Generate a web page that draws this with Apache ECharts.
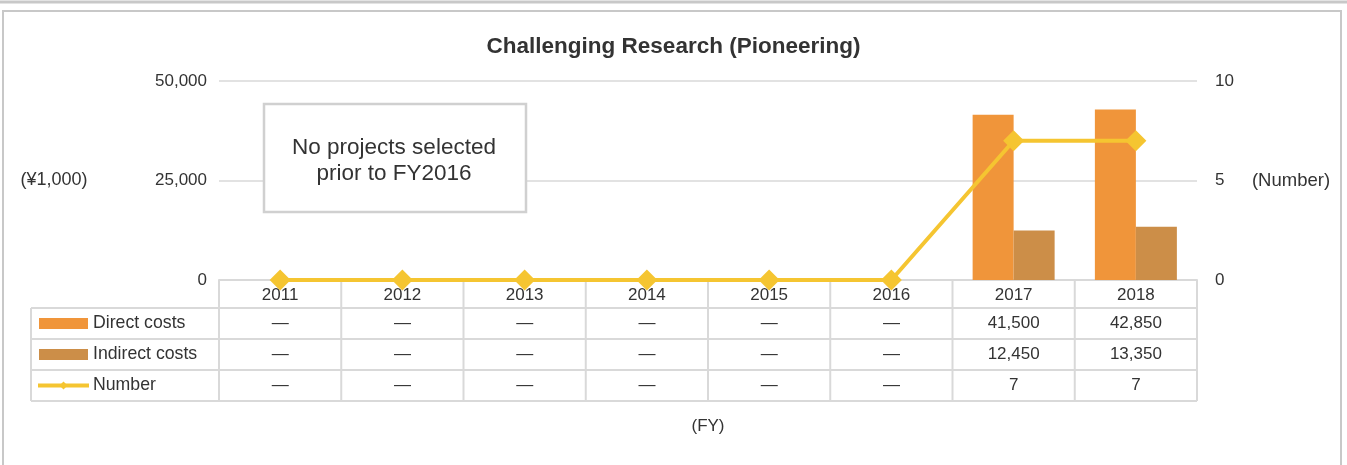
<!DOCTYPE html>
<html lang="en">
<head>
    <meta charset="UTF-8">
    <title>Challenging Research (Pioneering)</title>
    <script src="https://cdn.jsdelivr.net/npm/echarts@6/dist/echarts.min.js"></script>
    <style>
        html, body { margin: 0; padding: 0; background: #fff; }
        #chart { width: 1347px; height: 465px; }
    </style>
</head>
<body>
<div id="chart"></div>

<script>
    // data
    const years = ['2011', '2012', '2013', '2014', '2015', '2016', '2017', '2018'];
    const directCosts = [null, null, null, null, null, null, 41500, 42850];
    const indirectCosts = [null, null, null, null, null, null, 12450, 13350];
    const numbers = [0, 0, 0, 0, 0, 0, 7, 7];
    const leftTicks = [0, 25000, 50000];
    const rightTicks = [0, 5, 10];

    const FONT = '"Liberation Sans", Arial, sans-serif';
    const TEXT = '#333';
    const LINE = '#d9d9d9';
    const C_DIRECT = '#f0953a';
    const C_INDIRECT = '#cc8e48';
    const C_NUMBER = '#f5c531';

    const chart = echarts.init(document.getElementById('chart'));

    const fmt = v => v.toLocaleString('en-US');
    const cell = (arr, i) => directCosts[i] == null ? '—' : fmt(arr[i]);

    chart.setOption({
        animation: false,
        textStyle: { fontFamily: FONT },
        title: {
            text: 'Challenging Research (Pioneering)',
            left: 'center',
            top: 30,
            textStyle: { fontSize: 22.5, fontWeight: 'bold', color: TEXT, fontFamily: FONT }
        },
        grid: { left: 219, right: 150, top: 81, bottom: 185 },
        xAxis: {
            type: 'category',
            data: years,
            axisLine: { lineStyle: { color: LINE, width: 2 } },
            axisTick: { show: false },
            axisLabel: { margin: 7, fontSize: 17, color: TEXT, fontFamily: FONT },
            name: '(FY)',
            nameLocation: 'middle',
            nameGap: 138,
            nameTextStyle: { fontSize: 17, color: TEXT, fontFamily: FONT }
        },
        yAxis: [{
            type: 'value',
            min: leftTicks[0],
            max: leftTicks[2],
            interval: leftTicks[1] - leftTicks[0],
            axisLine: { show: false },
            axisTick: { show: false },
            axisLabel: { margin: 12, fontSize: 17, color: TEXT, fontFamily: FONT, formatter: v => fmt(v) },
            splitLine: { lineStyle: { color: LINE, width: 1.5 } }
        }, {
            type: 'value',
            min: rightTicks[0],
            max: rightTicks[2],
            interval: rightTicks[1] - rightTicks[0],
            axisLine: { show: false },
            axisTick: { show: false },
            axisLabel: { margin: 18, fontSize: 17, color: TEXT, fontFamily: FONT },
            splitLine: { show: false }
        }],
        series: [{
            name: 'Direct costs',
            type: 'bar',
            data: directCosts,
            barWidth: 41,
            barGap: '0%',
            itemStyle: { color: C_DIRECT }
        }, {
            name: 'Indirect costs',
            type: 'bar',
            data: indirectCosts,
            barWidth: 41,
            itemStyle: { color: C_INDIRECT }
        }, {
            name: 'Number',
            type: 'line',
            yAxisIndex: 1,
            data: numbers,
            symbol: 'diamond',
            symbolSize: 21,
            lineStyle: { color: C_NUMBER, width: 4 },
            itemStyle: { color: C_NUMBER },
            z: 5
        }]
    });

    // data table under the axis, placed from the axis scale
    function buildTable() {
        const x0 = chart.convertToPixel({ xAxisIndex: 0 }, 0);
        const x1 = chart.convertToPixel({ xAxisIndex: 0 }, 1);
        const cw = x1 - x0;
        const left = x0 - cw / 2;
        const right = left + cw * years.length;
        const yAxis0 = chart.convertToPixel({ yAxisIndex: 0 }, 0);
        const rowH = 31;
        const headY = yAxis0 + 28;
        const tableLeft = 31;
        const rows = [headY, headY + rowH, headY + rowH * 2, headY + rowH * 3];
        const bottom = rows[3];
        const els = [];
        const stroke = { stroke: LINE, lineWidth: 2 };

        // frame
        els.push({ type: 'line', shape: { x1: 0, y1: 2, x2: 1347, y2: 2 }, style: { stroke: '#c8c8c8', lineWidth: 3 } });
        els.push({ type: 'rect', shape: { x: 3, y: 11, width: 1338, height: 480 }, style: { fill: null, stroke: '#c8c8c8', lineWidth: 2 } });

        // grid lines of the table
        rows.forEach(y => els.push({ type: 'line', shape: { x1: tableLeft, y1: y, x2: right, y2: y }, style: stroke }));
        for (let i = 0; i <= years.length; i++) {
            const x = left + cw * i;
            els.push({ type: 'line', shape: { x1: x, y1: yAxis0, x2: x, y2: bottom }, style: stroke });
        }
        els.push({ type: 'line', shape: { x1: tableLeft, y1: headY, x2: tableLeft, y2: bottom }, style: stroke });

        // legend keys in the first column
        const mid = r => rows[r] + rowH / 2;
        els.push({ type: 'rect', shape: { x: 39, y: mid(0) - 5.5, width: 49, height: 11 }, style: { fill: C_DIRECT } });
        els.push({ type: 'rect', shape: { x: 39, y: mid(1) - 5.5, width: 49, height: 11 }, style: { fill: C_INDIRECT } });
        els.push({ type: 'line', shape: { x1: 38, y1: mid(2), x2: 89, y2: mid(2) }, style: { stroke: C_NUMBER, lineWidth: 4 } });
        els.push({ type: 'polygon', shape: { points: [[63.5, mid(2) - 4], [67.5, mid(2)], [63.5, mid(2) + 4], [59.5, mid(2)]] }, style: { fill: C_NUMBER } });
        ['Direct costs', 'Indirect costs', 'Number'].forEach((t, r) => {
            els.push({ type: 'text', x: 93, y: mid(r), style: { text: t, fontSize: 17.7, fontFamily: FONT, fill: TEXT, verticalAlign: 'middle' } });
        });

        // cell values
        years.forEach((y, i) => {
            const cx = left + cw * (i + 0.5);
            const vals = [cell(directCosts, i), cell(indirectCosts, i), directCosts[i] == null ? '—' : String(numbers[i])];
            vals.forEach((v, r) => {
                els.push({ type: 'text', x: cx, y: mid(r), style: { text: v, fontSize: 17, fontFamily: FONT, fill: TEXT, align: 'center', verticalAlign: 'middle' } });
            });
        });

        // axis unit labels
        const yMid = chart.convertToPixel({ yAxisIndex: 0 }, leftTicks[1]);
        els.push({ type: 'text', x: 54, y: yMid, style: { text: '(¥1,000)', fontSize: 18, fontFamily: FONT, fill: TEXT, align: 'center', verticalAlign: 'middle' } });
        els.push({ type: 'text', x: 1291, y: yMid, style: { text: '(Number)', fontSize: 18.5, fontFamily: FONT, fill: TEXT, align: 'center', verticalAlign: 'middle' } });

        // note box
        els.push({ type: 'rect', shape: { x: 264, y: 104, width: 262, height: 108 }, style: { fill: '#fff', stroke: '#d0d0d0', lineWidth: 2.5 }, z: 10 });
        els.push({ type: 'text', x: 394, y: 161, style: { text: 'No projects selected\nprior to FY2016', fontSize: 22.5, lineHeight: 26, fontFamily: FONT, fill: TEXT, align: 'center', verticalAlign: 'middle' }, z: 11 });

        chart.setOption({ graphic: els });
    }

    buildTable();
</script>
</body>
</html>
